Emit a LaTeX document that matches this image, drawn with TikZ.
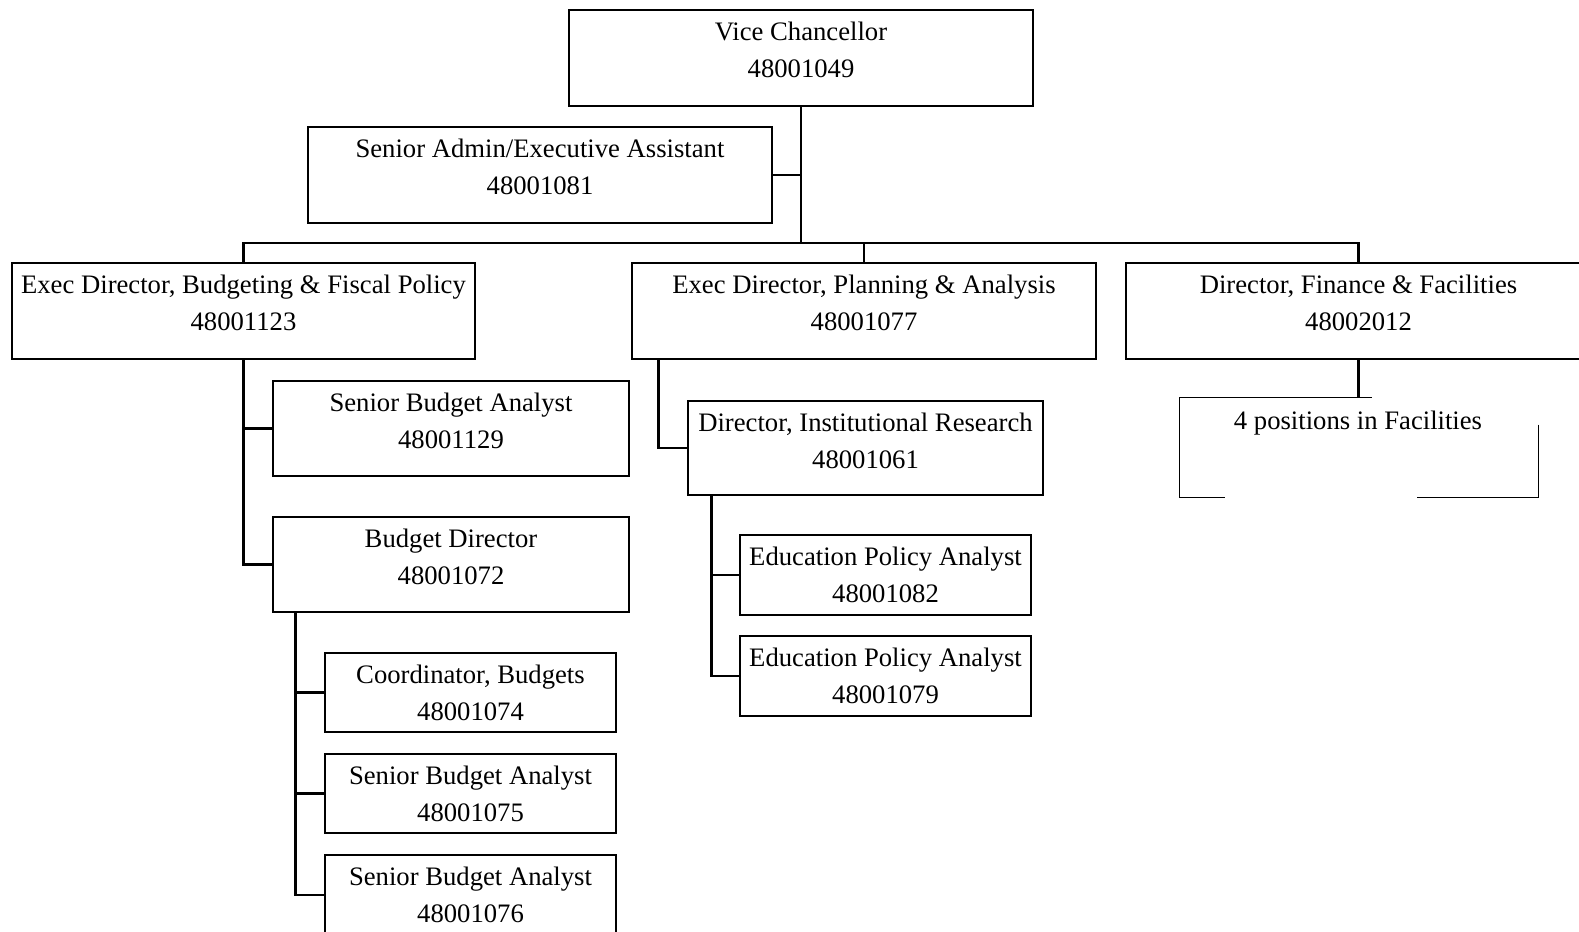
\documentclass[tikz,border=0pt]{standalone}
\usepackage{fontspec}
\setmainfont{Liberation Serif}
\usetikzlibrary{calc,fit}

% one unit = one pixel of the 1579 x 932 sheet, y grows downwards
\tikzset{
  orgbox/.style={draw, line width=2.1pt, inner sep=0pt},
  orgtext/.style={anchor=base, align=center, inner sep=0pt,
                  font=\fontsize{20}{27.75}\selectfont},
  link/.style={draw, line width=2pt},
  hairline/.style={draw, line width=0.9pt},
}

% a position box: name, two corners, two-line caption
% (the base anchor of a two-line caption sits on its second line)
\newcommand\orgunit[4]{%
  \node[orgbox, fit={#2 #3}] (#1) {};
  \node[orgtext] (#1-t) at ($(#1.north)+(0,69)$) {#4};}

\begin{document}
\begin{tikzpicture}[x=0.75pt, y=-0.75pt]
\useasboundingbox (0,0) rectangle (1579,932);
\clip (0,0) rectangle (1579,932);

% top of the office
\orgunit{vc}{(569,10)}{(1033,106)}{Vice Chancellor\\48001049}
\orgunit{admin}{(308,127)}{(772,223)}{Senior Admin/Executive Assistant\\48001081}

% directors
\orgunit{ebf}{(12,263)}{(475,359)}{Exec Director, Budgeting \& Fiscal Policy\\48001123}
\orgunit{epa}{(632,263)}{(1096,359)}{Exec Director, Planning \& Analysis\\48001077}
\orgunit{dff}{(1126,263)}{(1591,359)}{Director, Finance \& Facilities\\48002012}

% budgeting and fiscal policy
\orgunit{sba1}{(273,381)}{(629,476)}{Senior Budget Analyst\\48001129}
\orgunit{bd}{(273,517)}{(629,612)}{Budget Director\\48001072}
\orgunit{cb}{(325,653)}{(616,732)}{Coordinator, Budgets\\48001074}
\orgunit{sba2}{(325,754)}{(616,833)}{Senior Budget Analyst\\48001075}
\orgunit{sba3}{(325,855)}{(616,935)}{Senior Budget Analyst\\48001076}

% planning and analysis
\orgunit{dir}{(688,401)}{(1043,495)}{Director, Institutional Research\\48001061}
\orgunit{epa1}{(740,535)}{(1031,615)}{Education Policy Analyst\\48001082}
\orgunit{epa2}{(740,636)}{(1031,716)}{Education Policy Analyst\\48001079}

% facilities group, outlined with an open frame
\node[inner sep=0pt, fit={(1180,398) (1538,497)}] (fac) {};
\node[orgtext] (fac-t) at ($(fac.north)+(-1,32)$) {4 positions in Facilities};
\draw[hairline] ($(fac.north west)+(192,0)$) -- (fac.north west)
  -- (fac.south west) -- ($(fac.south west)+(45,0)$);
\draw[hairline] ($(fac.north east)+(0,27)$) -- (fac.south east)
  -- ($(fac.south east)+(-121,0)$);

% connectors
\coordinate (bus) at (801,243);
\draw[link] (vc.south) -- (bus);
\draw[link] (admin.east) -- (admin.east -| vc.south);
\draw[link] (ebf.north) -- (ebf.north |- bus) -- (dff.north |- bus) -- (dff.north);
\draw[link] (epa.north |- bus) -- (epa.north);

\draw[link] (ebf.south) -- (ebf.south |- bd.west) -- (bd.west);
\draw[link] (ebf.south |- sba1.west) -- (sba1.west);

\coordinate (bdj) at ($(bd.south west)+(24,0)$);
\draw[link] (bdj) -- (bdj |- sba3.west) -- (sba3.west);
\draw[link] (bdj |- cb.west) -- (cb.west);
\draw[link] (bdj |- sba2.west) -- (sba2.west);

\coordinate (epaj) at ($(epa.south west)+(28,0)$);
\draw[link] (epaj) -- (epaj |- dir.west) -- (dir.west);

\coordinate (dirj) at ($(dir.south west)+(25,0)$);
\draw[link] (dirj) -- (dirj |- epa2.west) -- (epa2.west);
\draw[link] (dirj |- epa1.west) -- (epa1.west);

\draw[link] (dff.south) -- (dff.south |- fac.north);
\end{tikzpicture}
\end{document}
